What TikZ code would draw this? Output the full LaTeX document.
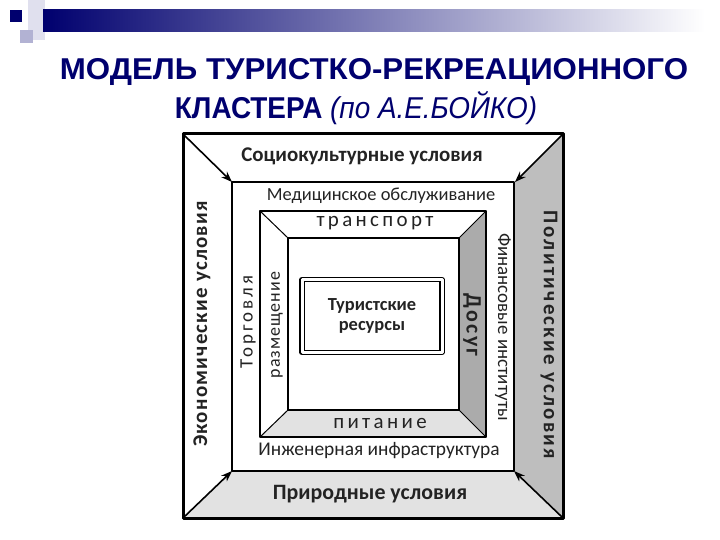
\documentclass[tikz,border=0pt]{standalone}
\usepackage{fontspec}
\usetikzlibrary{arrows.meta}
\setmainfont{Carlito}
\newfontfamily\titlefont{Liberation Sans}
\newfontfamily\widefont[LetterSpace=16]{Carlito}
\newfontfamily\midfont[LetterSpace=6]{Carlito}
\newfontfamily\loosefont[LetterSpace=11]{Carlito}
\definecolor{navy}{RGB}{0,0,110}
\definecolor{ink}{RGB}{35,35,35}
\definecolor{darkpanel}{RGB}{190,190,190}
\definecolor{lightpanel}{RGB}{226,226,226}
\tikzset{
  title/.style={font=\titlefont\bfseries\fontsize{28}{32}\selectfont, text=navy},
  cond/.style={font=\bfseries\fontsize{21}{24}\selectfont, text=ink},
  ring/.style={font=\fontsize{19}{22}\selectfont, text=ink},
  wide/.style={font=\widefont\fontsize{21}{24}\selectfont, text=ink},
}
\begin{document}
\begin{tikzpicture}[x=1bp, y=-1bp, >={Stealth[length=11bp,width=8bp]}, line join=round, line cap=round]
\useasboundingbox (0,0) rectangle (720,540);
% slide decoration
\fill[navy!12] (28,0) rectangle (45,40);
\fill[navy!30] (20,30) rectangle (33,43);
\shade[left color=navy, right color=white] (43,10) rectangle (705,32);
\fill[navy] (10,10) rectangle (22,22);
\node[title, xscale=1.12, yscale=1.08] (t1) at (374,72) {МОДЕЛЬ ТУРИСТКО-РЕКРЕАЦИОННОГО};
\node[title, yscale=1.08] (t2) at (356,108) {КЛАСТЕРА {\mdseries\itshape(по А.Е.БОЙКО)}};
% corners
\coordinate (o1) at (183,134); \coordinate (o2) at (563,134);
\coordinate (o3) at (563,518); \coordinate (o4) at (183,518);
\coordinate (m1) at (232,182); \coordinate (m2) at (515,182);
\coordinate (m3) at (514,471); \coordinate (m4) at (232,471);
\coordinate (f1) at (260,211); \coordinate (f2) at (486,211);
\coordinate (f3) at (486,437); \coordinate (f4) at (260,437);
\coordinate (g1) at (288,238); \coordinate (g2) at (459,238);
\coordinate (g3) at (459,410); \coordinate (g4) at (288,410);
% panels
\fill[white] (o1) rectangle (o3);
\fill[darkpanel] (o2) -- (o3) -- (m3) -- (m2) -- cycle;
\fill[lightpanel] (o4) -- (o3) -- (m3) -- (m4) -- cycle;
\fill[darkpanel!90!black] (f2) -- (f3) -- (g3) -- (g2) -- cycle;
\fill[lightpanel] (f4) -- (f3) -- (g3) -- (g4) -- cycle;
% frames
\draw[line width=3bp] (o1) rectangle (o3);
\draw[line width=1.4bp] (m1) rectangle (m3);
\draw[line width=1.4bp] (f1) rectangle (f3);
\draw[line width=1.2bp] (g1) rectangle (g3);
\foreach \i in {1,...,4}
  \draw[line width=1bp] (f\i) -- (g\i);
\foreach \i in {1,...,4}
  \draw[->, line width=1.6bp] (o\i) -- (m\i);
\node[draw, line width=1.2bp, double, double distance=3bp, minimum width=140bp,
  minimum height=73bp, align=center, font=\bfseries\fontsize{18.5}{20}\selectfont,
  text=ink] (res) at (372,316) {Туристские\\ресурсы};
% labels
\node[cond] (soc) at (362,156) {Социокультурные условия};
\node[cond, font=\bfseries\fontsize{22}{24}\selectfont] (prir) at (370,494) {Природные условия};
\node[cond, font=\midfont\bfseries\fontsize{21}{24}\selectfont, rotate=90] (econ) at (202,324) {Экономические условия};
\node[cond, font=\loosefont\bfseries\fontsize{21}{24}\selectfont, rotate=-90] (polit) at (549,335) {Политические условия};
\node[ring, font=\fontsize{18.5}{22}\selectfont] (med) at (381,196) {Медицинское обслуживание};
\node[ring, font=\fontsize{19.5}{22}\selectfont] (inzh) at (379,451) {Инженерная инфраструктура};
\node[ring, font=\widefont\fontsize{19}{22}\selectfont, rotate=90] (torg) at (248,322) {Торговля};
\node[ring, rotate=-90] (fin) at (503,327) {Финансовые институты};
\node[wide] (trans) at (375,223) {транспорт};
\node[wide] (pit) at (380,423) {питание};
\node[wide, font=\midfont\fontsize{18}{22}\selectfont, rotate=90] (razm) at (277,325) {размещение};
\node[wide, font=\loosefont\bfseries\fontsize{22}{24}\selectfont, rotate=-90] (dosug) at (472,325) {Досуг};
\end{tikzpicture}
\end{document}
